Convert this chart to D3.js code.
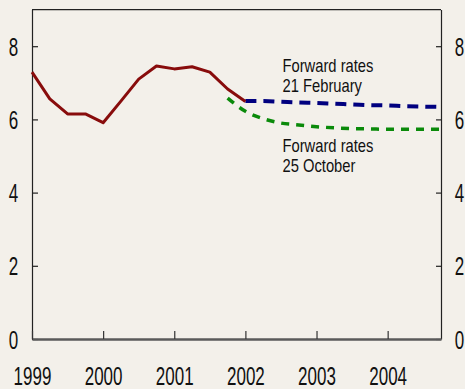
<!DOCTYPE html>
<html>
<head>
<meta charset="utf-8">
<script src="https://cdn.jsdelivr.net/npm/d3@7"></script>
<style>
  html, body { margin: 0; padding: 0; background: #f3f0ea; }
  svg { display: block; }
  text { font-family: "Liberation Sans", Arial, sans-serif; fill: #111; }
</style>
</head>
<body>
<svg id="chart" width="465" height="389"></svg>
<script>
// Policy rate history (quarterly, per cent)
const historyDates = [1999.0, 1999.25, 1999.5, 1999.75, 2000.0, 2000.25, 2000.5, 2000.75,
                      2001.0, 2001.25, 2001.5, 2001.75, 2002.0];
const historyRates = [7.29, 6.56, 6.15, 6.15, 5.91, 6.5, 7.1, 7.46,
                      7.38, 7.44, 7.29, 6.83, 6.49];

// Forward rates as of 21 February
const febDates = [2002.0, 2002.25, 2002.5, 2002.75, 2003.0, 2003.25, 2003.5, 2003.75,
                  2004.0, 2004.25, 2004.5, 2004.75];
const febRates = [6.5, 6.5, 6.48, 6.46, 6.45, 6.43, 6.41, 6.39, 6.38, 6.36, 6.35, 6.34];

// Forward rates as of 25 October
const octDates = [2001.75, 2002.0, 2002.25, 2002.5, 2002.75, 2003.0, 2003.25, 2003.5,
                  2003.75, 2004.0, 2004.25, 2004.5, 2004.75];
const octRates = [6.58, 6.22, 6.02, 5.9, 5.85, 5.8, 5.77, 5.75, 5.74, 5.73, 5.73, 5.73, 5.73];

const yTicks = [0, 2, 4, 6, 8];
const yearTicks = [1999, 2000, 2001, 2002, 2003, 2004];
const febLabel = ["Forward rates", "21 February"];
const octLabel = ["Forward rates", "25 October"];

const svg = d3.select("#chart");
const plotLeft = 32, plotRight = 441, plotTop = 9.6, plotBottom = 339;

const x = d3.scaleLinear().domain([1999, 2004.75]).range([plotLeft, plotRight]);
const y = d3.scaleLinear().domain([0, 9]).range([plotBottom, plotTop]);

// frame top edge
svg.append("line")
  .attr("x1", plotLeft).attr("x2", plotRight)
  .attr("y1", y(9)).attr("y2", y(9))
  .attr("stroke", "#222").attr("stroke-width", 1.2);

function styleAxis(g, dx) {
  g.select(".domain").attr("stroke", "#222").attr("stroke-width", 1.2);
  g.selectAll(".tick line").attr("stroke", "#222").attr("stroke-width", 1.2);
  g.selectAll(".tick text")
    .attr("x", null).attr("dy", "0.36em")
    .attr("text-anchor", "middle")
    .attr("transform", `translate(${dx},0) scale(0.68,1)`)
    .style("font-size", "25px")
    .style("font-family", '"Liberation Sans", Arial, sans-serif')
    .attr("fill", "#111");
}

const yLeft = d3.axisLeft(y).tickValues(yTicks).tickSize(-6).tickSizeOuter(0).tickFormat(d3.format("d"));
svg.append("g").attr("transform", `translate(${plotLeft},0)`).call(yLeft).call(g => styleAxis(g, -18.5));

const yRight = d3.axisRight(y).tickValues(yTicks).tickSize(-5).tickSizeOuter(0).tickFormat(d3.format("d"));
svg.append("g").attr("transform", `translate(${plotRight},0)`).call(yRight).call(g => styleAxis(g, 18.5));

const xAxis = d3.axisBottom(x).tickValues(yearTicks).tickSize(-8).tickSizeOuter(0).tickFormat(d3.format("d"));
svg.append("g").attr("transform", `translate(0,${plotBottom})`).call(xAxis).call(g => {
  g.select(".domain").attr("stroke", "#5a5a5a").attr("stroke-width", 2.5);
  g.selectAll(".tick line").attr("stroke", "#333").attr("stroke-width", 1.2);
  g.selectAll(".tick text")
    .attr("y", null).attr("dy", null)
    .attr("text-anchor", "middle")
    .attr("transform", "translate(0,46) scale(0.68,1)")
    .style("font-size", "25px")
    .style("font-family", '"Liberation Sans", Arial, sans-serif')
    .attr("fill", "#111");
});

const line = d3.line().x(d => x(d[0])).y(d => y(d[1]));

// forward curves
svg.append("path")
  .datum(d3.zip(octDates, octRates))
  .attr("d", line.curve(d3.curveMonotoneX))
  .attr("fill", "none").attr("stroke", "#0a8a0a").attr("stroke-width", 3.5)
  .attr("stroke-dasharray", "8,7");

svg.append("path")
  .datum(d3.zip(febDates, febRates))
  .attr("d", line.curve(d3.curveMonotoneX))
  .attr("fill", "none").attr("stroke", "#00007f").attr("stroke-width", 4)
  .attr("stroke-dasharray", "11,7");

// rate history
svg.append("path")
  .datum(d3.zip(historyDates, historyRates))
  .attr("d", line.curve(d3.curveLinear))
  .attr("fill", "none").attr("stroke", "#880c0c").attr("stroke-width", 3)
  .attr("stroke-linejoin", "round");

function annotate(lines, x0, baseline) {
  lines.forEach((t, i) => {
    svg.append("text")
      .attr("transform", `translate(${x0},${baseline + i * 20}) scale(0.82,1)`)
      .style("font-size", "18px")
      .text(t);
  });
}
annotate(febLabel, 282.5, 71.5);
annotate(octLabel, 282.5, 151.5);
</script>
</body>
</html>
